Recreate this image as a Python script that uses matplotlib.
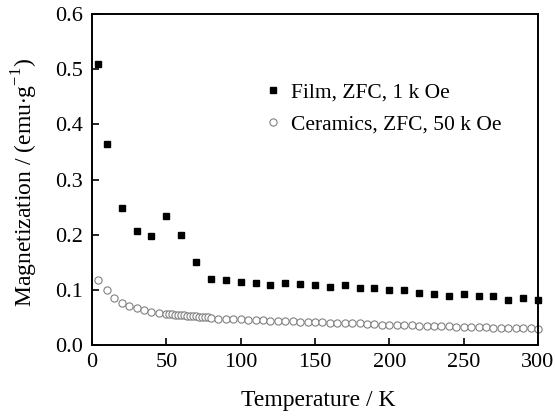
import matplotlib
matplotlib.use("Agg")
import matplotlib.pyplot as plt

# Film, ZFC, 1 kOe
film_T = [4, 10, 20, 30, 40, 50, 60, 70, 80, 90, 100, 110, 120, 130, 140,
          150, 160, 170, 180, 190, 200, 210, 220, 230, 240, 250, 260, 270,
          280, 290, 300]
film_M = [0.510, 0.364, 0.248, 0.206, 0.198, 0.234, 0.200, 0.150, 0.120,
          0.117, 0.114, 0.112, 0.108, 0.112, 0.110, 0.108, 0.106, 0.108,
          0.104, 0.103, 0.100, 0.099, 0.095, 0.093, 0.088, 0.093, 0.089,
          0.088, 0.082, 0.085, 0.082]

# Ceramics, ZFC, 50 kOe
cer_T = [4, 10, 15, 20, 25, 30, 35, 40, 45,
         50, 52, 54, 56, 58, 60, 62, 64, 66, 68, 70, 72, 74, 76, 78, 80,
         85, 90, 95, 100, 105, 110, 115, 120, 125, 130, 135, 140, 145, 150,
         155, 160, 165, 170, 175, 180, 185, 190, 195, 200, 205, 210, 215,
         220, 225, 230, 235, 240, 245, 250, 255, 260, 265, 270, 275, 280,
         285, 290, 295, 300]
cer_M = [0.118, 0.099, 0.086, 0.077, 0.071, 0.067, 0.063, 0.060, 0.058,
         0.057, 0.056, 0.056, 0.055, 0.055, 0.054, 0.054, 0.053, 0.053,
         0.052, 0.052, 0.051, 0.051, 0.050, 0.050, 0.049,
         0.048, 0.048, 0.047, 0.047, 0.046, 0.045, 0.045, 0.044, 0.044,
         0.043, 0.043, 0.042, 0.042, 0.041, 0.041, 0.040, 0.040, 0.040,
         0.039, 0.039, 0.038, 0.038, 0.037, 0.037, 0.036, 0.036, 0.036,
         0.035, 0.035, 0.034, 0.034, 0.034, 0.033, 0.033, 0.033, 0.032,
         0.032, 0.031, 0.031, 0.031, 0.030, 0.030, 0.030, 0.029]

x_ticks = [0, 50, 100, 150, 200, 250, 300]
y_ticks = [0.0, 0.1, 0.2, 0.3, 0.4, 0.5, 0.6]

plt.rcParams["font.family"] = ["Liberation Serif", "DejaVu Serif"]
plt.rcParams["mathtext.fontset"] = "custom"
plt.rcParams["mathtext.rm"] = "Liberation Serif"

fig = plt.figure(figsize=(5.55, 4.16), dpi=100)
ax = fig.add_axes([0.1658, 0.1707, 0.8036, 0.7956])

ax.plot(cer_T, cer_M, linestyle="none", marker="o", markersize=5.2,
        markerfacecolor="white", markeredgecolor="#808080", markeredgewidth=0.8,
        label="Ceramics, ZFC, 50 k Oe", clip_on=False, zorder=2)
ax.plot(film_T, film_M, linestyle="none", marker="s", markersize=5,
        color="black", label="Film, ZFC, 1 k Oe", clip_on=False, zorder=3)

ax.set_xlim(0, 300)
ax.set_ylim(0, 0.6)
ax.set_xticks(x_ticks)
ax.set_yticks(y_ticks)
ax.set_yticklabels([f"{v:.1f}" for v in y_ticks])
ax.tick_params(direction="in", length=5, width=1.2, labelsize=16, pad=6.5,
               top=False, right=False)
ax.tick_params(axis="x", pad=6)
for s in ax.spines.values():
    s.set_linewidth(1.4)

ax.set_xlabel("Temperature / K", fontsize=17)
ax.set_ylabel("Magnetization / (emu$\\cdot$g$^{-1}$)", fontsize=17)
ax.xaxis.set_label_coords(0.508, -0.135)
ax.yaxis.set_label_coords(-0.116, 0.49)

handles, labels = ax.get_legend_handles_labels()
ax.legend(handles[::-1], labels[::-1], loc="upper left",
          bbox_to_anchor=(0.363, 0.82), frameon=False, fontsize=15.5,
          handletextpad=0.3, handlelength=1.0, labelspacing=0.58,
          borderaxespad=0)

fig.savefig("out.png", dpi=100)
